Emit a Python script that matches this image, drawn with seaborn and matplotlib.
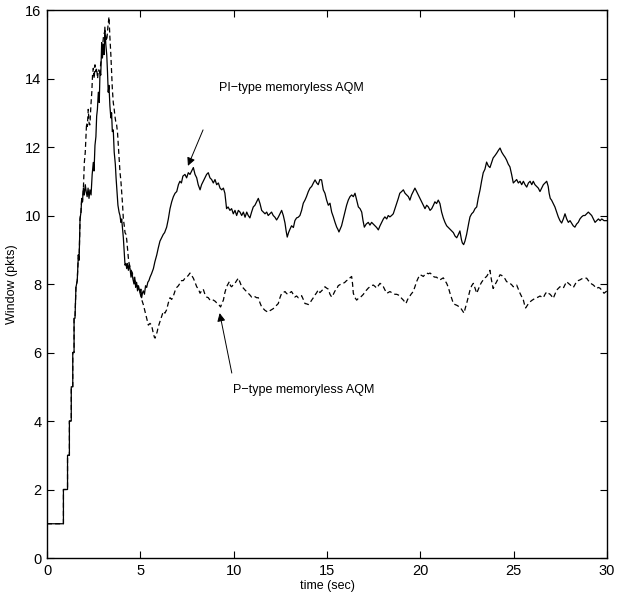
import pandas as pd
import seaborn as sns
import matplotlib.pyplot as plt

# slow start, shared by both runs (time sec, window pkts)
start_pts = [(0, 1), (0.88, 1), (0.88, 2), (1.1, 2), (1.1, 3), (1.2, 3), (1.2, 4), (1.3, 4),
             (1.3, 5), (1.38, 5), (1.38, 6), (1.45, 6), (1.45, 7), (1.5, 7.0), (1.55, 7.9),
             (1.62, 8.1), (1.68, 8.85), (1.72, 8.7), (1.77, 9.9), (1.82, 10.1), (1.86, 10.5),
             (1.9, 10.4), (1.95, 10.8)]

# PI-type memoryless AQM (solid)
pi_pts = [(2.0, 10.6), (2.05, 10.9), (2.1, 10.7), (2.15, 10.55), (2.2, 10.8), (2.25, 10.5), (2.3, 10.75),
          (2.36, 10.6), (2.42, 11.2), (2.48, 11.55), (2.52, 11.3), (2.57, 12.05), (2.62, 12.3), (2.66, 12.9),
          (2.7, 13.1), (2.75, 13.6), (2.8, 13.3), (2.84, 14.2), (2.88, 14.1), (2.93, 15.05), (2.97, 14.6),
          (3.02, 15.0), (3.06, 14.7), (3.1, 15.5), (3.15, 15.0), (3.2, 14.7), (3.24, 14.2), (3.28, 13.6),
          (3.32, 13.8), (3.37, 13.2), (3.42, 12.85), (3.46, 13.0), (3.5, 12.45), (3.55, 12.5), (3.6, 11.85),
          (3.66, 11.5), (3.7, 11.1), (3.76, 10.6), (3.8, 10.3), (3.86, 10.1), (3.91, 10.0), (3.96, 9.8),
          (4.0, 9.9), (4.05, 9.6), (4.09, 9.35), (4.14, 8.9), (4.18, 8.55), (4.23, 8.6), (4.27, 8.45),
          (4.32, 8.6), (4.36, 8.4), (4.41, 8.55), (4.45, 8.45), (4.5, 8.2), (4.55, 8.35), (4.6, 8.15),
          (4.66, 8.0), (4.7, 8.2), (4.75, 7.9), (4.8, 8.05), (4.85, 7.8), (4.9, 7.95), (4.98, 7.75),
          (5.03, 7.85), (5.07, 7.6), (5.12, 7.75), (5.16, 7.8), (5.22, 7.7), (5.28, 7.95), (5.34, 7.9),
          (5.4, 8.05), (5.46, 8.1), (5.52, 8.2), (5.6, 8.3), (5.7, 8.45), (5.78, 8.65), (5.88, 8.85),
          (5.96, 9.05), (6.05, 9.25), (6.14, 9.35), (6.23, 9.45), (6.3, 9.5), (6.41, 9.66), (6.5, 9.9),
          (6.59, 10.2), (6.68, 10.4), (6.77, 10.55), (6.86, 10.65), (6.95, 10.7), (7.04, 10.9), (7.12, 11.0),
          (7.2, 10.95), (7.28, 11.15), (7.39, 11.2), (7.48, 11.1), (7.57, 11.25), (7.66, 11.2), (7.75, 11.3),
          (7.84, 11.4), (7.93, 11.2), (8.02, 11.1), (8.1, 10.9), (8.2, 10.75), (8.28, 10.9), (8.37, 11.0),
          (8.46, 11.1), (8.55, 11.2), (8.64, 11.25), (8.73, 11.1), (8.82, 11.05), (8.91, 10.95), (9.0, 11.05),
          (9.09, 10.9), (9.18, 10.95), (9.27, 10.8), (9.36, 10.75), (9.45, 10.8), (9.53, 10.65), (9.58, 10.4),
          (9.62, 10.2), (9.7, 10.25), (9.8, 10.15), (9.89, 10.2), (9.98, 10.05), (10.07, 10.15), (10.16, 10.0),
          (10.25, 10.15), (10.34, 10.1), (10.43, 10.0), (10.52, 10.1), (10.61, 9.95), (10.7, 10.1), (10.78, 10.0),
          (10.87, 9.93), (10.96, 10.1), (11.05, 10.25), (11.14, 10.3), (11.23, 10.4), (11.32, 10.5), (11.41, 10.35),
          (11.5, 10.15), (11.59, 10.1), (11.68, 10.05), (11.77, 10.1), (11.85, 10.0), (11.94, 10.05), (12.03, 10.1),
          (12.12, 10.0), (12.21, 9.95), (12.3, 9.87), (12.39, 9.95), (12.48, 10.05), (12.57, 10.15), (12.66, 10.0),
          (12.75, 9.78), (12.81, 9.55), (12.87, 9.37), (12.94, 9.5), (13.0, 9.58), (13.1, 9.7), (13.2, 9.65),
          (13.28, 9.85), (13.37, 9.93), (13.46, 9.95), (13.55, 10.0), (13.64, 10.15), (13.73, 10.36), (13.82, 10.45),
          (13.9, 10.55), (14.0, 10.7), (14.09, 10.8), (14.18, 10.85), (14.27, 10.95), (14.36, 11.04), (14.45, 10.95),
          (14.53, 10.9), (14.62, 11.05), (14.71, 11.04), (14.8, 10.75), (14.89, 10.65), (14.98, 10.45), (15.07, 10.3),
          (15.16, 10.36), (15.25, 10.1), (15.34, 9.96), (15.43, 9.8), (15.52, 9.66), (15.58, 9.6), (15.64, 9.52),
          (15.7, 9.6), (15.78, 9.7), (15.87, 9.9), (15.96, 10.1), (16.05, 10.3), (16.14, 10.45), (16.23, 10.55),
          (16.32, 10.6), (16.41, 10.55), (16.5, 10.65), (16.59, 10.45), (16.68, 10.25), (16.77, 10.2), (16.86, 10.1),
          (16.93, 9.85), (17.0, 9.66), (17.1, 9.75), (17.21, 9.8), (17.3, 9.72), (17.39, 9.8), (17.48, 9.75),
          (17.57, 9.7), (17.66, 9.65), (17.75, 9.58), (17.84, 9.7), (17.93, 9.8), (18.02, 9.9), (18.1, 9.96),
          (18.2, 9.9), (18.28, 10.0), (18.37, 9.96), (18.46, 10.0), (18.55, 10.05), (18.64, 10.2), (18.73, 10.36),
          (18.82, 10.5), (18.9, 10.65), (19.0, 10.7), (19.09, 10.75), (19.18, 10.65), (19.27, 10.6), (19.36, 10.55),
          (19.44, 10.45), (19.53, 10.6), (19.62, 10.7), (19.71, 10.8), (19.8, 10.7), (19.89, 10.6), (19.98, 10.5),
          (20.07, 10.4), (20.16, 10.3), (20.25, 10.2), (20.34, 10.3), (20.43, 10.25), (20.52, 10.15), (20.61, 10.2),
          (20.7, 10.3), (20.78, 10.4), (20.87, 10.35), (20.96, 10.45), (21.05, 10.35), (21.14, 10.1), (21.23, 9.93),
          (21.32, 9.8), (21.41, 9.7), (21.5, 9.65), (21.59, 9.6), (21.68, 9.55), (21.77, 9.5), (21.86, 9.4),
          (21.95, 9.35), (22.04, 9.45), (22.12, 9.55), (22.2, 9.3), (22.25, 9.2), (22.32, 9.15), (22.39, 9.25),
          (22.48, 9.45), (22.53, 9.6), (22.6, 9.8), (22.66, 9.96), (22.75, 10.05), (22.84, 10.1), (22.93, 10.2),
          (23.02, 10.25), (23.1, 10.5), (23.2, 10.75), (23.28, 11.0), (23.37, 11.25), (23.46, 11.35), (23.55, 11.56),
          (23.64, 11.45), (23.73, 11.4), (23.82, 11.55), (23.9, 11.68), (24.0, 11.75), (24.09, 11.82), (24.18, 11.9),
          (24.27, 11.97), (24.36, 11.85), (24.45, 11.77), (24.54, 11.7), (24.62, 11.62), (24.71, 11.5), (24.8, 11.42),
          (24.89, 11.2), (24.98, 10.95), (25.07, 11.0), (25.16, 11.05), (25.25, 10.95), (25.34, 11.0), (25.43, 10.9),
          (25.52, 11.0), (25.61, 10.9), (25.7, 10.83), (25.79, 10.95), (25.88, 11.0), (25.97, 10.9), (26.05, 11.0),
          (26.14, 10.9), (26.23, 10.85), (26.32, 10.8), (26.41, 10.7), (26.5, 10.8), (26.59, 10.9), (26.68, 10.95),
          (26.77, 11.0), (26.85, 10.85), (26.9, 10.65), (26.96, 10.5), (27.03, 10.45), (27.12, 10.35), (27.21, 10.25),
          (27.3, 10.1), (27.39, 9.96), (27.48, 9.85), (27.57, 9.78), (27.66, 9.9), (27.75, 10.05), (27.84, 9.9),
          (27.93, 9.8), (28.02, 9.85), (28.1, 9.78), (28.19, 9.7), (28.28, 9.66), (28.37, 9.75), (28.46, 9.8),
          (28.55, 9.9), (28.64, 9.96), (28.73, 10.0), (28.82, 10.0), (28.91, 10.05), (29.0, 10.1), (29.09, 10.05),
          (29.18, 10.0), (29.27, 9.9), (29.36, 9.8), (29.45, 9.85), (29.54, 9.9), (29.63, 9.85), (29.72, 9.9),
          (29.84, 9.85), (30.0, 9.85)]

# P-type memoryless AQM (dashed)
p_pts = [(2.0, 11.55), (2.05, 11.85), (2.12, 12.7), (2.16, 12.6), (2.21, 13.1), (2.26, 12.65), (2.3, 12.65),
         (2.35, 13.2), (2.4, 13.6), (2.44, 14.1), (2.48, 14.3), (2.53, 14.0), (2.57, 14.4), (2.62, 14.2),
         (2.66, 14.3), (2.71, 14.0), (2.75, 14.25), (2.8, 14.2), (2.84, 14.2), (2.88, 14.45), (2.93, 14.6),
         (2.97, 14.9), (3.02, 15.2), (3.06, 15.3), (3.1, 15.4), (3.15, 15.2), (3.2, 15.1), (3.26, 15.5),
         (3.32, 15.8), (3.37, 15.2), (3.42, 14.7), (3.46, 14.2), (3.5, 13.7), (3.55, 13.3), (3.6, 13.1),
         (3.64, 12.9), (3.68, 12.75), (3.73, 12.65), (3.78, 12.4), (3.82, 12.05), (3.86, 11.7), (3.91, 11.27),
         (3.96, 11.0), (4.0, 10.7), (4.05, 10.3), (4.09, 9.9), (4.14, 9.7), (4.18, 9.5), (4.23, 9.45),
         (4.27, 9.3), (4.32, 9.0), (4.36, 8.75), (4.4, 8.6), (4.45, 8.5), (4.54, 8.35), (4.62, 8.25),
         (4.7, 8.1), (4.8, 8.0), (4.9, 7.85), (4.98, 7.75), (5.07, 7.55), (5.16, 7.4), (5.25, 7.2),
         (5.34, 7.0), (5.43, 6.8), (5.52, 6.85), (5.6, 6.8), (5.68, 6.6), (5.75, 6.45), (5.79, 6.42),
         (5.84, 6.5), (5.9, 6.6), (5.96, 6.75), (6.05, 6.9), (6.14, 7.05), (6.23, 7.2), (6.32, 7.15),
         (6.41, 7.25), (6.5, 7.45), (6.59, 7.6), (6.68, 7.55), (6.77, 7.65), (6.86, 7.8), (6.95, 7.9),
         (7.04, 7.95), (7.12, 8.02), (7.21, 8.1), (7.3, 8.1), (7.39, 8.17), (7.48, 8.2), (7.57, 8.25),
         (7.66, 8.32), (7.75, 8.25), (7.84, 8.17), (7.93, 8.05), (8.02, 7.92), (8.11, 7.85), (8.2, 7.73),
         (8.28, 7.8), (8.37, 7.85), (8.46, 7.7), (8.55, 7.62), (8.64, 7.6), (8.73, 7.53), (8.82, 7.55),
         (8.91, 7.53), (9.0, 7.5), (9.09, 7.45), (9.2, 7.4), (9.3, 7.33), (9.38, 7.45), (9.45, 7.53),
         (9.53, 7.75), (9.62, 7.92), (9.7, 8.0), (9.77, 8.07), (9.83, 7.95), (9.89, 7.92), (9.98, 7.98),
         (10.07, 8.02), (10.16, 8.1), (10.25, 8.17), (10.34, 8.05), (10.43, 7.92), (10.52, 7.88), (10.6, 7.83),
         (10.69, 7.78), (10.78, 7.73), (10.87, 7.68), (10.96, 7.62), (11.05, 7.65), (11.14, 7.63), (11.23, 7.6),
         (11.32, 7.6), (11.41, 7.45), (11.5, 7.33), (11.59, 7.28), (11.68, 7.23), (11.77, 7.2), (11.85, 7.18),
         (11.94, 7.22), (12.03, 7.25), (12.12, 7.28), (12.21, 7.33), (12.3, 7.38), (12.39, 7.43), (12.48, 7.6),
         (12.57, 7.73), (12.66, 7.75), (12.75, 7.78), (12.84, 7.72), (12.93, 7.7), (13.02, 7.75), (13.1, 7.78),
         (13.19, 7.7), (13.28, 7.62), (13.37, 7.65), (13.46, 7.6), (13.55, 7.63), (13.64, 7.66), (13.73, 7.55),
         (13.82, 7.43), (13.91, 7.42), (14.0, 7.4), (14.09, 7.45), (14.18, 7.53), (14.27, 7.6), (14.36, 7.68),
         (14.45, 7.75), (14.53, 7.83), (14.62, 7.75), (14.71, 7.8), (14.8, 7.85), (14.89, 7.92), (14.98, 7.88),
         (15.07, 7.85), (15.16, 7.7), (15.25, 7.62), (15.34, 7.7), (15.43, 7.8), (15.52, 7.85), (15.6, 7.95),
         (15.69, 7.98), (15.78, 8.0), (15.87, 8.02), (15.96, 8.05), (16.05, 8.1), (16.14, 8.12), (16.23, 8.18),
         (16.32, 8.22), (16.37, 8.0), (16.41, 7.73), (16.5, 7.6), (16.59, 7.53), (16.68, 7.58), (16.77, 7.6),
         (16.86, 7.65), (16.95, 7.7), (17.04, 7.78), (17.13, 7.83), (17.21, 7.88), (17.3, 7.92), (17.39, 7.95),
         (17.48, 7.97), (17.57, 7.93), (17.66, 7.88), (17.75, 7.95), (17.84, 8.02), (17.93, 7.98), (18.02, 7.92),
         (18.11, 7.82), (18.2, 7.73), (18.28, 7.75), (18.37, 7.78), (18.46, 7.75), (18.55, 7.73), (18.64, 7.7),
         (18.73, 7.7), (18.82, 7.68), (18.9, 7.65), (19.0, 7.58), (19.09, 7.53), (19.16, 7.48), (19.23, 7.43),
         (19.32, 7.55), (19.41, 7.62), (19.5, 7.7), (19.62, 7.78), (19.71, 7.92), (19.8, 8.07), (19.89, 8.18),
         (19.98, 8.27), (20.07, 8.25), (20.16, 8.22), (20.25, 8.28), (20.34, 8.32), (20.43, 8.3), (20.52, 8.32),
         (20.61, 8.28), (20.7, 8.22), (20.78, 8.2), (20.87, 8.2), (20.96, 8.15), (21.05, 8.12), (21.14, 8.15),
         (21.23, 8.18), (21.32, 8.1), (21.41, 8.02), (21.5, 7.9), (21.59, 7.73), (21.68, 7.58), (21.77, 7.43),
         (21.86, 7.4), (21.95, 7.38), (22.04, 7.35), (22.12, 7.33), (22.22, 7.25), (22.3, 7.18), (22.34, 7.15),
         (22.41, 7.3), (22.48, 7.43), (22.57, 7.62), (22.66, 7.82), (22.75, 7.95), (22.84, 8.02), (22.93, 7.88),
         (23.02, 7.73), (23.11, 7.85), (23.2, 7.97), (23.28, 8.05), (23.37, 8.12), (23.46, 8.18), (23.55, 8.22),
         (23.64, 8.3), (23.73, 8.4), (23.8, 8.15), (23.9, 7.87), (24.0, 7.98), (24.09, 8.07), (24.18, 8.17),
         (24.27, 8.27), (24.36, 8.25), (24.45, 8.2), (24.54, 8.15), (24.62, 8.07), (24.71, 8.05), (24.8, 8.02),
         (24.89, 7.98), (24.98, 7.92), (25.07, 7.95), (25.16, 7.97), (25.25, 7.85), (25.34, 7.73), (25.43, 7.63),
         (25.52, 7.53), (25.58, 7.4), (25.64, 7.3), (25.76, 7.4), (25.88, 7.48), (25.97, 7.52), (26.05, 7.55),
         (26.14, 7.58), (26.23, 7.6), (26.32, 7.62), (26.41, 7.65), (26.5, 7.62), (26.59, 7.6), (26.68, 7.7),
         (26.77, 7.77), (26.86, 7.73), (26.95, 7.7), (27.03, 7.65), (27.12, 7.58), (27.21, 7.7), (27.3, 7.82),
         (27.39, 7.87), (27.48, 7.92), (27.57, 7.9), (27.66, 7.88), (27.75, 7.98), (27.84, 8.07), (27.93, 8.02),
         (28.02, 7.98), (28.11, 7.93), (28.2, 7.9), (28.28, 7.98), (28.37, 8.07), (28.46, 8.1), (28.55, 8.12),
         (28.64, 8.15), (28.73, 8.17), (28.82, 8.17), (28.91, 8.17), (29.0, 8.1), (29.09, 8.05), (29.18, 8.0),
         (29.27, 7.97), (29.36, 7.92), (29.45, 7.87), (29.54, 7.9), (29.62, 7.88), (29.72, 7.82), (29.84, 7.73),
         (30.0, 7.8)]

x_ticks = [0, 5, 10, 15, 20, 25, 30]
y_ticks = [0, 2, 4, 6, 8, 10, 12, 14, 16]

rows = []
for name, pts in [("P", start_pts + p_pts), ("PI", start_pts + pi_pts)]:
    for t, w in pts:
        rows.append({"t": t, "window": w, "series": name})
df = pd.DataFrame(rows)

sns.set_style("ticks")
plt.rcParams["font.family"] = ["Liberation Sans", "DejaVu Sans"]
plt.rcParams["text.color"] = "k"
plt.rcParams["axes.labelcolor"] = "k"

fig = plt.figure(figsize=(6.25, 6.0), dpi=100)
ax = fig.add_axes([0.0752, 0.07, 0.896, 0.9133])

sns.lineplot(data=df, x="t", y="window", style="series", style_order=["PI", "P"],
             dashes={"PI": "", "P": (4, 2.5)}, color="k", lw=0.9,
             estimator=None, sort=False, legend=False, ax=ax)

ax.set_xlim(0, 30)
ax.set_ylim(0, 16)
ax.set_xticks(x_ticks)
ax.set_yticks(y_ticks)
ax.tick_params(direction="in", top=True, right=True, length=5, width=0.8,
               labelsize=10.5, colors="k", pad=4)
for sp in ax.spines.values():
    sp.set_linewidth(1.0)
    sp.set_color("k")
ax.set_xlabel("time (sec)", fontsize=9, labelpad=2)
ax.set_ylabel("Window (pkts)", fontsize=9, labelpad=5)

arrow = dict(arrowstyle="-|>", color="k", lw=0.7, shrinkA=0, shrinkB=0, mutation_scale=12)
ax.annotate("", xy=(7.55, 11.45), xytext=(8.36, 12.5), arrowprops=arrow)
ax.text(9.2, 13.72, "PI\u2212type memoryless AQM", fontsize=9, va="center", ha="left")
ax.annotate("", xy=(9.25, 7.15), xytext=(9.9, 5.4), arrowprops=arrow)
ax.text(9.95, 4.9, "P\u2212type memoryless AQM", fontsize=9, va="center", ha="left")

fig.savefig("out.png", dpi=100)
